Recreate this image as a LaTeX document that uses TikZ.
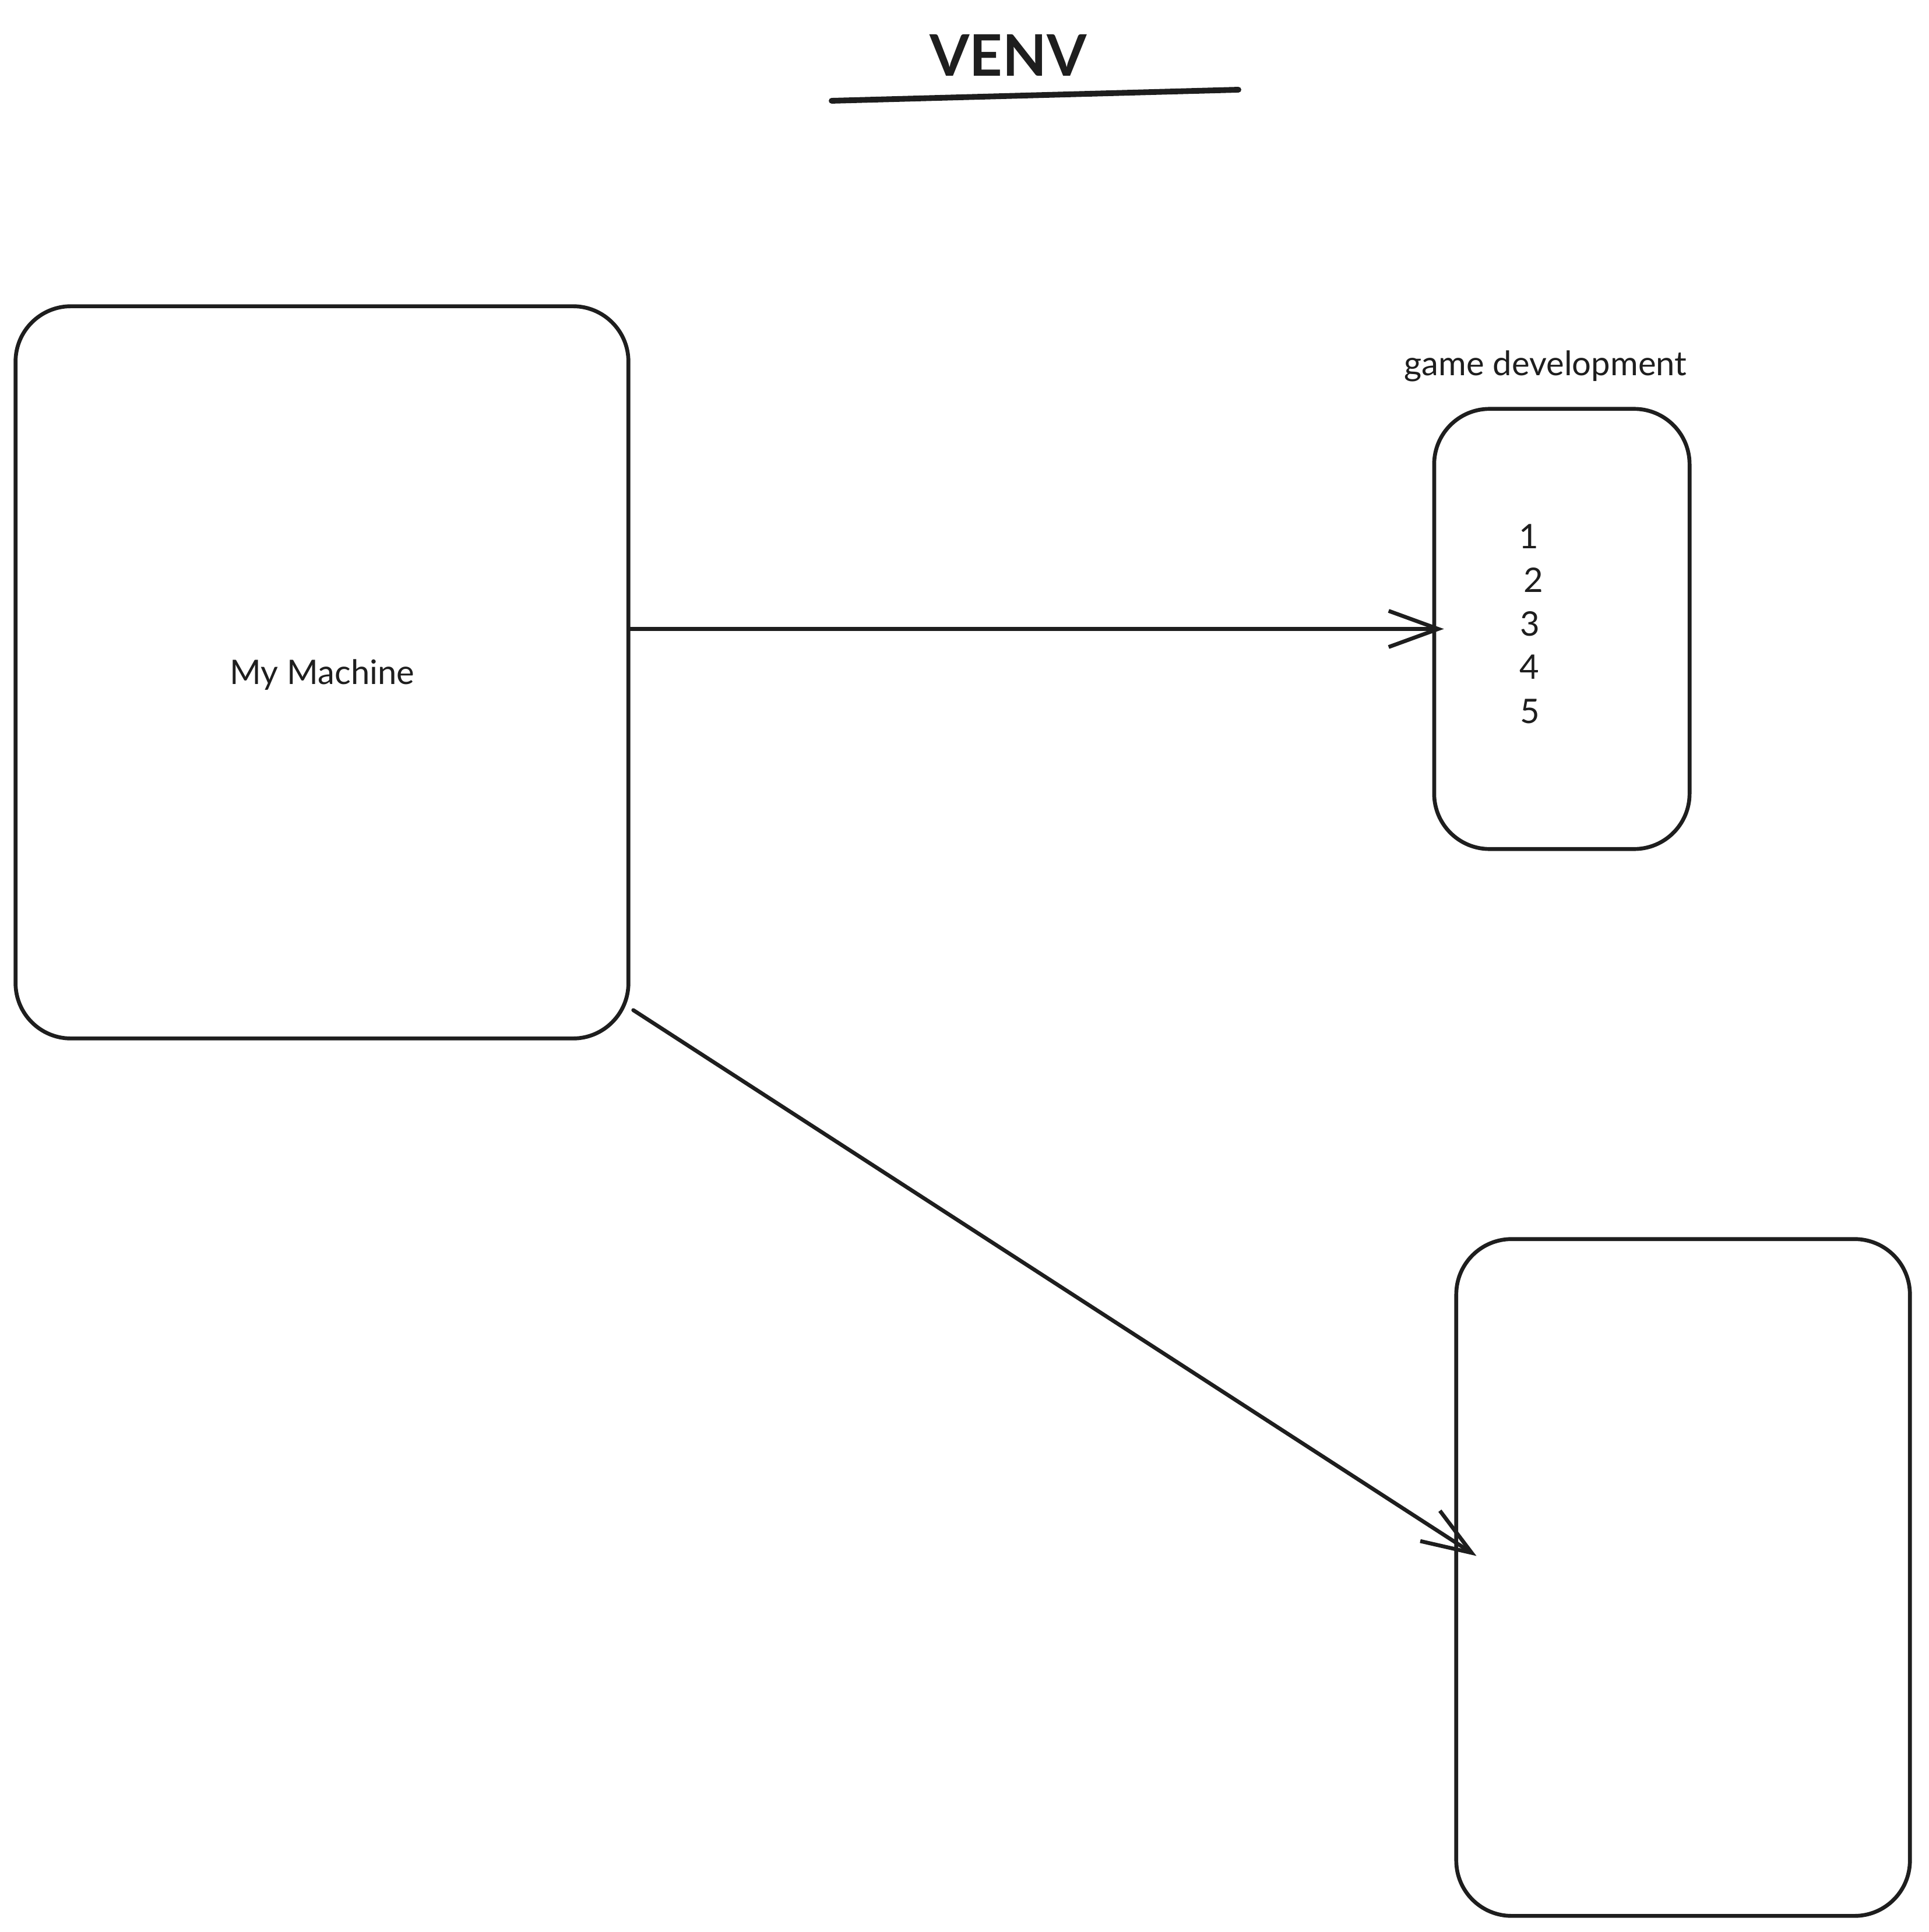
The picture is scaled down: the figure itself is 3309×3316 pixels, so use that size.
\documentclass[tikz,border=0pt]{standalone}
\usepackage{fontspec}
\setmainfont{Lato}
\usetikzlibrary{arrows.meta,calc}
\definecolor{ink}{HTML}{1E1E1E}
\tikzset{
  box/.style={draw=ink, line width=1.9pt, rectangle, inner sep=0pt, rounded corners=0.95cm},
  lbl/.style={text=ink, inner sep=0pt, font=\fontsize{16.5}{21}\selectfont},
  conn/.style={draw=ink, line width=1.9pt, line cap=round,
    -{Straight Barb[length=8.5mm,width=6.2mm,line width=1.9pt]}},
}
\begin{document}
\begin{tikzpicture}[x=0.01cm,y=-0.01cm]
\useasboundingbox (0,0) rectangle (3309,3316);
% title
\node[text=ink, inner sep=0pt, font=\fontsize{28}{32}\selectfont\bfseries] (title) at (1730,95) {VENV};
\draw[ink, line width=2.8pt, line cap=round] (1427,173) -- (2125,154);
% boxes
\node[box, minimum width=10.51cm, minimum height=12.56cm] (box1) at (552.5,1154) {};
\node[box, minimum width=4.38cm, minimum height=7.55cm] (box2) at (2680,1079.5) {};
\node[box, minimum width=7.78cm, minimum height=11.61cm] (box3) at (2888,2707.5) {};
% labels
\node[lbl, anchor=base] (mm) at (553,1174) {My Machine};
\node[lbl, anchor=base] (gd) at (2652,645) {game development};
\node[lbl, anchor=base west] (d1) at (2606,941) {1};
\node[lbl, anchor=base west] (d2) at (2614,1016) {2};
\node[lbl, anchor=base west] (d3) at (2608,1091) {3};
\node[lbl, anchor=base west] (d4) at (2607,1165) {4};
\node[lbl, anchor=base west] (d5) at (2608,1241) {5};
% connectors
\draw[conn] (box1.east |- box2.west) -- ($(box2.west)+(20,0)$);
\draw[conn] ($(box1.south east)+(5,-52)$) -- ($(box3.west)+(38,-37)$);
\end{tikzpicture}
\end{document}
